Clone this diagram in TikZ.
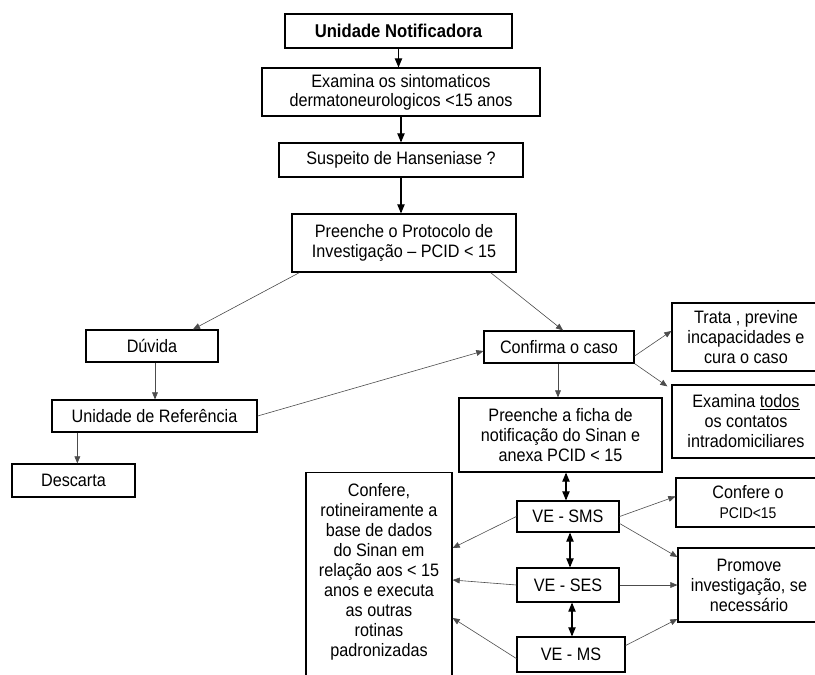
\documentclass[tikz,border=0pt]{standalone}
\usepackage{fontspec}
\setmainfont{Liberation Sans}[FakeStretch=0.9]
\usetikzlibrary{arrows}

\begin{document}
\begin{tikzpicture}[x=1pt,y=-1pt,
>=triangle 45,
caixa/.style={draw,line width=1.3pt,align=center,inner sep=2pt,
font=\fontsize{18}{20}\selectfont},
seta/.style={->,line width=0.6pt,draw=black!70},
forte/.style={->,line width=1.1pt},
duplo/.style={<->,line width=1.1pt}]
\useasboundingbox (0,0) rectangle (815,675);

% coluna central
\node[caixa,minimum width=227pt,minimum height=34pt,font=\fontsize{18.5}{20}\selectfont\bfseries] (notif) at (398.5,31) {Unidade Notificadora};
\node[caixa,minimum width=278pt,minimum height=48pt,font=\fontsize{18}{19}\selectfont] (exam) at (401,92) {Examina os sintomaticos\\dermatoneurologicos <15 anos};
\node[caixa,minimum width=244pt,minimum height=34pt] (susp) at (401,160) {Suspeito de Hanseniase ?};
\node[caixa,minimum width=224pt,minimum height=58pt] (prot) at (404,243) {Preenche o Protocolo de\\Investigação -- PCID < 15};

% lado esquerdo
\node[caixa,minimum width=132pt,minimum height=32pt] (duv) at (152,346) {Dúvida};
\node[caixa,minimum width=205pt,minimum height=32pt] (uref) at (154.5,416) {Unidade de Referência};
\node[caixa,minimum width=123pt,minimum height=33pt] (desc) at (73.5,480.5) {Descarta};

% lado direito
\node[caixa,minimum width=150pt,minimum height=32pt] (conf) at (559,347) {Confirma o caso};
\node[caixa,minimum width=148pt,minimum height=68pt] (trata) at (746,337) {Trata , previne\\incapacidades e\\cura o caso};
\node[caixa,minimum width=148pt,minimum height=73pt] (todos) at (746,421.5) {Examina \underline{todos}\\os contatos\\intradomiciliares};
\node[caixa,minimum width=203pt,minimum height=74pt] (ficha) at (560.5,435) {Preenche a ficha de\\notificação do Sinan e\\anexa PCID < 15};
\node[caixa,minimum width=144pt,minimum height=49pt] (pcid) at (748,502.5) {Confere o\\{\fontsize{15.5}{18}\selectfont PCID<15}};
\node[caixa,minimum width=142pt,minimum height=74pt] (prom) at (749,585) {Promove\\investigação, se\\necessário};

% vigilancia
\node[caixa,minimum width=102pt,minimum height=31pt] (sms) at (568,516.5) {VE - SMS};
\node[caixa,minimum width=102pt,minimum height=34pt] (ses) at (568,585) {VE - SES};
\node[caixa,minimum width=108pt,minimum height=35pt] (ms) at (571,654.5) {VE - MS};
\node[caixa,minimum width=146pt,anchor=north,inner ysep=11pt,text depth=190pt] (rot) at (379,472) {Confere,\\rotineiramente a\\base de dados\\do Sinan em\\relação aos < 15\\anos e executa\\as outras\\rotinas\\padronizadas};

\draw[forte] (notif.south) -- (notif.south |- exam.north);
\draw[forte] (exam.south) -- (exam.south |- susp.north);
\draw[forte] (susp.south) -- (susp.south |- prot.north);

\draw[seta] ([xshift=8pt]prot.south west) -- ([xshift=41pt]duv.north);
\draw[seta] ([xshift=-26pt]prot.south east) -- ([xshift=4pt]conf.north);
\draw[seta] ([xshift=3pt]duv.south) -- ([xshift=3pt]duv.south |- uref.north);
\draw[seta] ([xshift=26pt]uref.south west) -- ([xshift=26pt]uref.south west |- desc.north);
\draw[seta] (uref.east) -- ([yshift=-4pt]conf.west);

\draw[seta] ([yshift=-9pt]conf.east) -- ([yshift=6pt]trata.west);
\draw[seta] (conf.south east) -- ([xshift=-4pt,yshift=-2pt]todos.north west);
\draw[seta] ([xshift=-1pt]conf.south) -- ([xshift=-1pt]conf.south |- ficha.north);

\draw[duplo] ([xshift=-2pt]sms.north |- ficha.south) -- ([xshift=-2pt]sms.north);
\draw[duplo] ([xshift=2pt]sms.south) -- ([xshift=2pt]sms.south |- ses.north);
\draw[duplo] ([xshift=4pt]ses.south) -- ([xshift=4pt]ses.south |- ms.north);

\draw[seta] (sms.east) -- ([yshift=6pt]pcid.west);
\draw[seta] ([yshift=-7pt]sms.east) -- ([yshift=28pt]prom.west);
\draw[seta] (ses.east) -- (prom.west);
\draw[seta] ([yshift=9pt]ms.east) -- ([yshift=-34pt]prom.west);

\draw[seta] (sms.west) -- ([yshift=-76pt]rot.north east);
\draw[seta] (ses.west) -- ([yshift=-108pt]rot.north east);
\draw[seta] ([yshift=-4pt]ms.west) -- ([yshift=-146pt]rot.north east);
\end{tikzpicture}
\end{document}
